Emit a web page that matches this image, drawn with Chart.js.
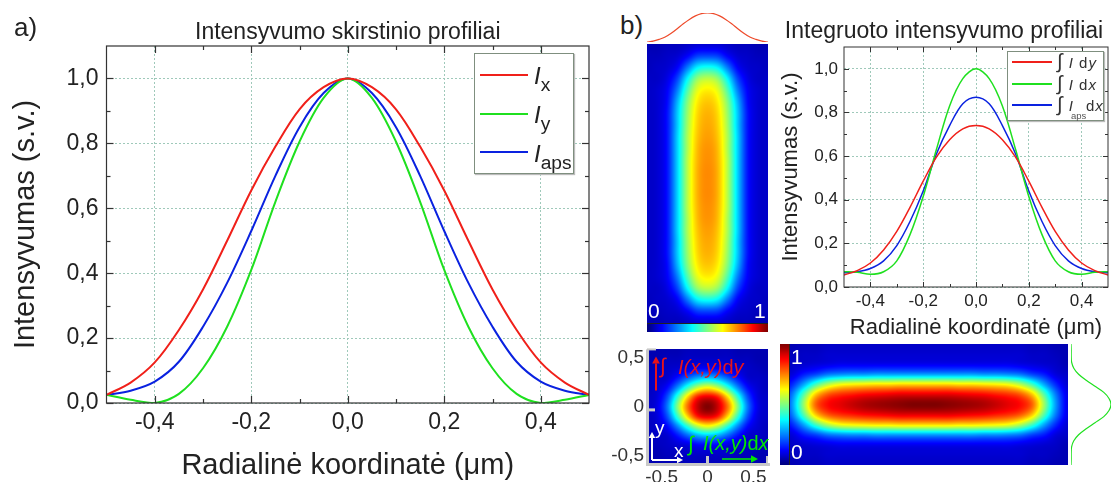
<!DOCTYPE html>
<html>
<head>
<meta charset="utf-8">
<script src="https://cdn.jsdelivr.net/npm/chart.js@4"></script>
<style>
html, body { margin: 0; padding: 0; background: #fff; }
body { position: relative; width: 1114px; height: 482px; overflow: hidden; font-family: "Liberation Sans", Arial, sans-serif; color: #222; }
canvas { position: absolute; }
.txt { position: absolute; white-space: nowrap; line-height: 1; }
.box { position: absolute; background: #fff; border: 1px solid #7f8f7f; box-shadow: 1px 1px 1px #bbb; }
.smp { position: absolute; height: 2px; }
i { font-style: italic; }
sub { font-size: 0.8em; line-height: 0; vertical-align: -0.35em; }
.int { font-size: 1.35em; line-height: 0; font-weight: normal; }
</style>
</head>
<body>
<script>
// x positions of the curves (um)
const xPositions = [-0.5, -0.45, -0.4, -0.35, -0.3, -0.25, -0.2, -0.15, -0.1, -0.05, 0, 0.05, 0.1, 0.15, 0.2, 0.25, 0.3, 0.35, 0.4, 0.45, 0.5];

// a) intensity profiles
const profileX = [0.025, 0.063, 0.125, 0.225, 0.35, 0.50, 0.655, 0.79, 0.905, 0.973, 1, 0.973, 0.905, 0.79, 0.655, 0.50, 0.35, 0.225, 0.125, 0.063, 0.025];
const profileY = [0.025, 0.01, 0, 0.028, 0.107, 0.235, 0.41, 0.62, 0.805, 0.94, 1, 0.94, 0.805, 0.62, 0.41, 0.235, 0.107, 0.028, 0, 0.01, 0.025];
const profileAps = [0.025, 0.038, 0.066, 0.127, 0.235, 0.37, 0.53, 0.70, 0.85, 0.955, 1, 0.955, 0.85, 0.70, 0.53, 0.37, 0.235, 0.127, 0.066, 0.038, 0.025];

// b) integrated profiles
const integralDy = [0.055, 0.075, 0.11, 0.17, 0.255, 0.365, 0.485, 0.595, 0.675, 0.725, 0.74, 0.725, 0.675, 0.595, 0.485, 0.365, 0.255, 0.17, 0.11, 0.075, 0.055];
const integralDx = [0.07, 0.068, 0.058, 0.07, 0.12, 0.24, 0.415, 0.63, 0.83, 0.955, 1, 0.955, 0.83, 0.63, 0.415, 0.24, 0.12, 0.07, 0.058, 0.068, 0.07];
const integralAps = [0.065, 0.07, 0.085, 0.12, 0.19, 0.30, 0.44, 0.61, 0.74, 0.84, 0.87, 0.84, 0.74, 0.61, 0.44, 0.30, 0.19, 0.12, 0.085, 0.07, 0.065];

// small profiles next to the maps
const topProfile = [0, 0.03, 0.09, 0.17, 0.30, 0.46, 0.63, 0.78, 0.90, 0.98, 1, 0.98, 0.90, 0.78, 0.63, 0.46, 0.30, 0.17, 0.09, 0.03, 0];
const sideProfile = [0, 0.005, 0.005, 0.015, 0.07, 0.19, 0.38, 0.6, 0.82, 0.95, 1, 0.95, 0.82, 0.6, 0.38, 0.19, 0.07, 0.015, 0.005, 0.005, 0];

// ticks
const xTicks = [-0.4, -0.2, 0, 0.2, 0.4];
const xMinorTicks = [-0.3, -0.1, 0.1, 0.3];
const yTicks = [0, 0.2, 0.4, 0.6, 0.8, 1];
const yMinorTicks = [0.1, 0.3, 0.5, 0.7, 0.9];
const mapTicks = [-0.5, 0, 0.5];
const barScale = [0, 0.1, 0.2, 0.3, 0.4, 0.5, 0.6, 0.7, 0.8, 0.9, 1];

// maps, one quarter each: first row/column is the centre of the map
const tallQuarter = [
    [0.74, 0.70, 0.55, 0.33, 0.14, 0.08, 0.07],
    [0.74, 0.70, 0.55, 0.33, 0.14, 0.08, 0.07],
    [0.735, 0.695, 0.55, 0.33, 0.14, 0.08, 0.07],
    [0.73, 0.69, 0.54, 0.33, 0.14, 0.08, 0.07],
    [0.72, 0.68, 0.54, 0.33, 0.14, 0.08, 0.07],
    [0.71, 0.67, 0.53, 0.32, 0.14, 0.08, 0.07],
    [0.70, 0.66, 0.52, 0.32, 0.14, 0.08, 0.07],
    [0.68, 0.64, 0.50, 0.30, 0.13, 0.08, 0.07],
    [0.64, 0.60, 0.45, 0.25, 0.12, 0.08, 0.07],
    [0.56, 0.52, 0.37, 0.19, 0.10, 0.07, 0.07],
    [0.39, 0.36, 0.24, 0.12, 0.08, 0.07, 0.06],
    [0.19, 0.18, 0.12, 0.08, 0.07, 0.06, 0.06],
    [0.08, 0.08, 0.07, 0.06, 0.06, 0.05, 0.05]
];
const smallQuarter = [
    [1.00, 0.93, 0.76, 0.50, 0.24, 0.10, 0.07],
    [0.90, 0.85, 0.66, 0.42, 0.20, 0.09, 0.07],
    [0.62, 0.56, 0.42, 0.26, 0.13, 0.08, 0.06],
    [0.32, 0.29, 0.22, 0.14, 0.08, 0.07, 0.06],
    [0.12, 0.12, 0.09, 0.08, 0.07, 0.06, 0.05],
    [0.07, 0.07, 0.07, 0.06, 0.06, 0.05, 0.05],
    [0.06, 0.06, 0.06, 0.05, 0.05, 0.05, 0.05]
];
const wideQuarter = [
    [1.00, 1.00, 0.99, 0.98, 0.97, 0.955, 0.93, 0.90, 0.87, 0.78, 0.53, 0.27, 0.10],
    [0.90, 0.90, 0.90, 0.89, 0.88, 0.87, 0.85, 0.83, 0.79, 0.68, 0.46, 0.24, 0.10],
    [0.66, 0.66, 0.66, 0.65, 0.65, 0.64, 0.63, 0.61, 0.55, 0.44, 0.29, 0.16, 0.08],
    [0.28, 0.28, 0.28, 0.28, 0.28, 0.27, 0.27, 0.26, 0.24, 0.19, 0.15, 0.09, 0.07],
    [0.11, 0.11, 0.11, 0.11, 0.11, 0.11, 0.11, 0.11, 0.10, 0.09, 0.08, 0.07, 0.05],
    [0.08, 0.08, 0.08, 0.08, 0.08, 0.08, 0.08, 0.08, 0.08, 0.07, 0.07, 0.06, 0.05],
    [0.07, 0.07, 0.07, 0.07, 0.07, 0.07, 0.07, 0.07, 0.07, 0.06, 0.06, 0.05, 0.05]
];

const FONT = "'Liberation Sans', Arial, sans-serif";
const TEXT_COLOR = '#222';
const GRID_COLOR = '#9fc9ba';
const RED = '#f0201a';
const GREEN = '#1fe01f';
const BLUE = '#0a22e0';

function addCanvas(left, top, width, height) {
    const c = document.createElement('canvas');
    c.width = width;
    c.height = height;
    c.style.left = left + 'px';
    c.style.top = top + 'px';
    document.body.appendChild(c);
    return c;
}

function addText(html, left, top, size, color, extra) {
    const d = document.createElement('div');
    d.className = 'txt';
    d.innerHTML = html;
    d.style.left = left + 'px';
    d.style.top = top + 'px';
    d.style.fontSize = size + 'px';
    if (color) d.style.color = color;
    if (extra) d.style.cssText += extra;
    document.body.appendChild(d);
    return d;
}

function commaLabel(value) {
    return Number(value).toFixed(1).replace('.', ',');
}

function points(xs, ys) {
    return xs.map((x, i) => ({ x: x, y: ys[i] }));
}

function lineSet(label, data, color, width) {
    return {
        label: label,
        data: data,
        borderColor: color,
        borderWidth: width,
        pointRadius: 0,
        showLine: true,
        fill: false,
        tension: 0.33
    };
}

// quarter -> full matrix
function mirrorGrid(quarter) {
    const rows = quarter.map(r => r.slice(1).reverse().concat(r));
    return rows.slice(1).reverse().concat(rows);
}

function jet(v) {
    const c = t => Math.round(255 * Math.max(0, Math.min(1, t)));
    return [c(Math.min(4 * v - 1.5, -4 * v + 4.5)), c(Math.min(4 * v - 0.5, -4 * v + 3.5)), c(Math.min(4 * v + 0.5, -4 * v + 2.5))];
}

function cubic(a, b, c, d, t) {
    return b + 0.5 * t * (c - a + t * (2 * a - 5 * b + 4 * c - d + t * (3 * (b - c) + d - a)));
}

function sampleGrid(grid, gx, gy) {
    const rows = grid.length, cols = grid[0].length;
    const cell = (i, j) => grid[Math.max(0, Math.min(rows - 1, j))][Math.max(0, Math.min(cols - 1, i))];
    const i = Math.min(cols - 2, Math.floor(gx)), j = Math.min(rows - 2, Math.floor(gy));
    const tx = gx - i, ty = gy - j;
    const r = [];
    for (let n = -1; n <= 2; n++) {
        r.push(cubic(cell(i - 1, j + n), cell(i, j + n), cell(i + 1, j + n), cell(i + 2, j + n), tx));
    }
    return cubic(r[0], r[1], r[2], r[3], ty);
}

// paints options.plugins.heat.grid over the plot area, through the chart's scales
const heatPlugin = {
    id: 'heat',
    beforeDatasetsDraw(chart, args, opts) {
        if (!opts.grid) return;
        const a = chart.chartArea, sx = chart.scales.x, sy = chart.scales.y, grid = opts.grid;
        const w = Math.round(a.right - a.left), h = Math.round(a.bottom - a.top);
        const img = chart.ctx.createImageData(w, h);
        for (let py = 0; py < h; py++) {
            const gy = (sy.getValueForPixel(a.top + py + 0.5) - sy.min) / (sy.max - sy.min) * (grid.length - 1);
            for (let px = 0; px < w; px++) {
                const gx = (sx.getValueForPixel(a.left + px + 0.5) - sx.min) / (sx.max - sx.min) * (grid[0].length - 1);
                const col = jet(sampleGrid(grid, gx, gy));
                const k = 4 * (py * w + px);
                img.data[k] = col[0];
                img.data[k + 1] = col[1];
                img.data[k + 2] = col[2];
                img.data[k + 3] = 255;
            }
        }
        chart.ctx.putImageData(img, a.left, a.top);
    }
};

// frame and inward ticks on all four sides
const framePlugin = {
    id: 'frame',
    afterDatasetsDraw(chart, args, opts) {
        if (!opts.major) return;
        const a = chart.chartArea, sx = chart.scales.x, sy = chart.scales.y, ctx = chart.ctx;
        ctx.save();
        ctx.strokeStyle = '#333';
        ctx.lineWidth = opts.width;
        ctx.strokeRect(a.left, a.top, a.right - a.left, a.bottom - a.top);
        const mark = (x1, y1, x2, y2) => {
            ctx.beginPath();
            ctx.moveTo(x1, y1);
            ctx.lineTo(x2, y2);
            ctx.stroke();
        };
        const vert = (v, len) => {
            const x = Math.round(sx.getPixelForValue(v)) + 0.5;
            mark(x, a.bottom, x, a.bottom - len);
            mark(x, a.top, x, a.top + len);
        };
        const hor = (v, len) => {
            const y = Math.round(sy.getPixelForValue(v)) + 0.5;
            mark(a.left, y, a.left + len, y);
            mark(a.right, y, a.right - len, y);
        };
        xTicks.forEach(v => vert(v, opts.major));
        xMinorTicks.forEach(v => vert(v, opts.minor));
        yTicks.forEach(v => hor(v, opts.major));
        yMinorTicks.forEach(v => hor(v, opts.minor));
        ctx.restore();
    }
};
Chart.register(heatPlugin, framePlugin);
Chart.defaults.font.family = FONT;
Chart.defaults.color = TEXT_COLOR;

function profileChart(canvas, o) {
    return new Chart(canvas, {
        type: 'scatter',
        data: { datasets: o.datasets },
        options: {
            responsive: false,
            animation: false,
            layout: { padding: o.padding },
            scales: {
                x: {
                    type: 'linear', min: -0.5, max: 0.5,
                    afterBuildTicks: s => { s.ticks = xTicks.map(v => ({ value: v })); },
                    afterFit: s => { s.height = o.xHeight; },
                    ticks: { callback: commaLabel, font: { size: o.tickSize }, color: TEXT_COLOR, padding: o.xPad, maxRotation: 0, autoSkip: false },
                    grid: { color: GRID_COLOR, drawTicks: false, lineWidth: 1 },
                    border: { display: false, dash: [2, 2] },
                    title: { display: true, text: 'Radialinė koordinatė (μm)', font: { size: o.xTitleSize, lineHeight: 1 }, color: TEXT_COLOR, padding: { top: 0, bottom: o.xTitlePad } }
                },
                y: {
                    type: 'linear', min: 0, max: 1.1,
                    afterBuildTicks: s => { s.ticks = yTicks.map(v => ({ value: v })); },
                    afterFit: s => { s.width = o.yWidth; },
                    ticks: { callback: commaLabel, font: { size: o.tickSize }, color: TEXT_COLOR, padding: o.yPad, autoSkip: false },
                    grid: { color: GRID_COLOR, drawTicks: false, lineWidth: 1 },
                    border: { display: false, dash: [2, 2] },
                    title: { display: true, text: 'Intensyvumas (s.v.)', font: { size: o.yTitleSize, lineHeight: 1 }, color: TEXT_COLOR, padding: { top: o.yTitlePad, bottom: 0 } }
                }
            },
            plugins: {
                legend: { display: false },
                tooltip: { enabled: false },
                title: { display: true, text: o.title, fullSize: o.titleFull, color: TEXT_COLOR, font: { size: o.titleSize, weight: 'normal', lineHeight: 1 }, padding: o.titlePad },
                frame: { major: o.major, minor: o.minor, width: o.frameWidth }
            }
        }
    });
}

// a)
profileChart(addCanvas(0, 0, 610, 482), {
    datasets: [
        lineSet('Ix', points(xPositions, profileX), RED, 2),
        lineSet('Iy', points(xPositions, profileY), GREEN, 2),
        lineSet('Iaps', points(xPositions, profileAps), BLUE, 2)
    ],
    padding: { top: 0, right: 21, bottom: 0, left: 0 },
    xHeight: 79, yWidth: 106.5,
    tickSize: 23, xPad: 6, yPad: 8,
    xTitleSize: 29, xTitlePad: 2, yTitleSize: 29, yTitlePad: 11,
    title: 'Intensyvumo skirstinio profiliai', titleFull: false, titleSize: 23, titlePad: { top: 21, bottom: 2 },
    major: 7, minor: 4, frameWidth: 1.2
});

// b) integrated profiles
profileChart(addCanvas(780, 0, 334, 345), {
    datasets: [
        lineSet('dy', points(xPositions, integralDy), RED, 1.5),
        lineSet('dx', points(xPositions, integralDx), GREEN, 1.5),
        lineSet('aps', points(xPositions, integralAps), BLUE, 1.5)
    ],
    padding: { top: 0, right: 6, bottom: 0, left: 0 },
    xHeight: 58, yWidth: 64,
    tickSize: 17, xPad: 4, yPad: 6,
    xTitleSize: 22, xTitlePad: 6, yTitleSize: 22, yTitlePad: 0,
    title: 'Integruoto intensyvumo profiliai', titleFull: true, titleSize: 23, titlePad: { top: 20, bottom: 4 },
    major: 5, minor: 3, frameWidth: 1
});

function heatChart(canvas, grid, o) {
    o = o || {};
    return new Chart(canvas, {
        type: 'scatter',
        data: { datasets: [] },
        plugins: o.plugins || [],
        options: {
            responsive: false,
            animation: false,
            layout: { padding: o.padding || 0 },
            scales: {
                x: Object.assign({ type: 'linear', min: -1, max: 1, display: false }, o.x),
                y: Object.assign({ type: 'linear', min: -1, max: 1, display: false }, o.y)
            },
            plugins: { legend: { display: false }, tooltip: { enabled: false }, heat: { grid: grid } }
        }
    });
}

function miniProfile(canvas, data, color, padding, xr, yr) {
    return new Chart(canvas, {
        type: 'scatter',
        data: { datasets: [lineSet('profile', data, color, 1.2)] },
        options: {
            responsive: false,
            animation: false,
            layout: { padding: padding },
            scales: {
                x: Object.assign({ type: 'linear', display: false }, xr),
                y: Object.assign({ type: 'linear', display: false }, yr)
            },
            plugins: { legend: { display: false }, tooltip: { enabled: false } }
        }
    });
}

// tall map with its colour bar and profile
heatChart(addCanvas(647, 44, 121, 279), mirrorGrid(tallQuarter));
heatChart(addCanvas(647, 323, 121, 9), [barScale, barScale]);
miniProfile(addCanvas(647, 8, 121, 36), points(xPositions, topProfile), '#ee4a2a',
    { top: 5, right: 0, bottom: 2, left: 0 }, { min: -0.5, max: 0.5 }, { min: 0, max: 1 });

// small map
const smallPanelTicks = {
    afterBuildTicks: s => { s.ticks = mapTicks.map(v => ({ value: v })); }
};
const annotations = {
    id: 'annotations',
    afterDraw(chart) {
        const a = chart.chartArea, ctx = chart.ctx;
        ctx.save();
        ctx.fillStyle = '#c8c8c8';
        ctx.fillRect(a.left - 1, a.top, 3, a.bottom - a.top);
        ctx.fillRect(a.left - 1, a.bottom - 2, a.right - a.left + 3, 3);
        ctx.fillRect(a.left, a.top - 1, 9, 2);
        ctx.fillRect(a.left, a.top + 59, 8, 3);
        ctx.fillRect(a.left + 59, a.bottom - 9, 3, 8);
        ctx.fillRect(a.right - 2, a.bottom - 9, 2, 8);
        const arrow = (x1, y1, x2, y2, color, w, head) => {
            const ang = Math.atan2(y2 - y1, x2 - x1);
            ctx.strokeStyle = color;
            ctx.fillStyle = color;
            ctx.lineWidth = w;
            ctx.beginPath();
            ctx.moveTo(x1, y1);
            ctx.lineTo(x2 - Math.cos(ang) * head, y2 - Math.sin(ang) * head);
            ctx.stroke();
            ctx.beginPath();
            ctx.moveTo(x2, y2);
            ctx.lineTo(x2 - Math.cos(ang) * head - Math.sin(ang) * head * 0.55, y2 - Math.sin(ang) * head + Math.cos(ang) * head * 0.55);
            ctx.lineTo(x2 - Math.cos(ang) * head + Math.sin(ang) * head * 0.55, y2 - Math.sin(ang) * head - Math.cos(ang) * head * 0.55);
            ctx.closePath();
            ctx.fill();
        };
        arrow(a.left + 9, a.top + 41, a.left + 9, a.top + 7, '#e8131a', 2, 7);
        arrow(a.left + 75, a.bottom - 6, a.left + 111, a.bottom - 6, '#00e800', 1.5, 7);
        arrow(a.left + 5, a.bottom - 5, a.left + 5, a.bottom - 33, '#fff', 2, 6);
        arrow(a.left + 5, a.bottom - 5, a.left + 36, a.bottom - 5, '#fff', 2, 6);
        ctx.restore();
    }
};
heatChart(addCanvas(600, 335, 180, 147), mirrorGrid(smallQuarter), {
    padding: { top: 9, right: 12, bottom: 0, left: 0 },
    plugins: [annotations],
    x: Object.assign({
        display: true, min: -0.66, max: 0.66,
        afterFit: s => { s.height = 17; },
        ticks: { callback: v => String(v), font: { size: 19 }, color: '#333', padding: 1, maxRotation: 0, autoSkip: false },
        grid: { display: false, drawTicks: false }, border: { display: false }
    }, smallPanelTicks),
    y: Object.assign({
        display: true, min: -0.59, max: 0.59,
        afterFit: s => { s.width = 47; },
        ticks: { callback: v => v === 0 ? '0' : commaLabel(v), font: { size: 19 }, color: '#333', padding: 3, autoSkip: false },
        grid: { display: false, drawTicks: false }, border: { display: false }
    }, smallPanelTicks)
});

// wide map with its colour bar and profile
heatChart(addCanvas(780, 344, 288, 121), mirrorGrid(wideQuarter));
heatChart(addCanvas(780, 344, 10, 121), barScale.map(v => [v, v]));
miniProfile(addCanvas(1068, 344, 46, 121), points(sideProfile, xPositions), GREEN,
    { top: 0, right: 3, bottom: 0, left: 3 }, { min: 0, max: 1 }, { min: -0.5, max: 0.5 });

// frame lines of the colour bars
addText('', 647, 323, 1, null, 'width:121px;height:1px;background:#222;');
addText('', 789, 344, 1, null, 'width:1px;height:121px;background:#222;');

// panel labels
addText('a)', 14, 14, 26);
addText('b)', 620, 12, 26);

// labels on the maps
addText('0', 648, 300, 21, '#fff');
addText('1', 754, 300, 21, '#fff');
addText('1', 791, 346, 21, '#fff');
addText('0', 791, 441, 21, '#fff');

addText('∫', 660, 355, 21, '#e8131a', 'font-weight:100;');
addText('<i>I(x,y)</i>d<i>y</i>', 678, 357, 20, '#e8131a');
addText('∫', 688, 433, 21, '#00e800', 'font-weight:100;');
addText('<i>I(x,y)</i>d<i>x</i>', 703, 433, 20, '#00e800');
addText('y', 655, 418, 19, '#fff');
addText('x', 674, 441, 19, '#fff');

// legend of a)
function legendBox(left, top, width, height) {
    const b = document.createElement('div');
    b.className = 'box';
    b.style.cssText = 'left:' + left + 'px;top:' + top + 'px;width:' + width + 'px;height:' + height + 'px;';
    document.body.appendChild(b);
}

function legendSample(left, top, width, color) {
    const s = document.createElement('div');
    s.className = 'smp';
    s.style.cssText = 'left:' + left + 'px;top:' + top + 'px;width:' + width + 'px;background:' + color + ';';
    document.body.appendChild(s);
}

legendBox(474, 53, 98, 119);
legendSample(480, 74, 48, RED);
legendSample(480, 113, 48, GREEN);
legendSample(480, 151, 48, BLUE);
addText('<i>I</i><sub>x</sub>', 534, 64, 24);
addText('<i>I</i><sub>y</sub>', 534, 103, 24);
addText('<i>I</i><sub>aps</sub>', 534, 142, 24);

// legend of b)
legendBox(1007, 51, 95, 68);
legendSample(1012, 61, 40, RED);
legendSample(1012, 83, 40, GREEN);
legendSample(1012, 104, 40, BLUE);
addText('<span class="int">∫</span> <i>I</i> d<i>y</i>', 1057, 55, 15, '#333', 'letter-spacing:1px;');
addText('<span class="int">∫</span> <i>I</i> d<i>x</i>', 1057, 77, 15, '#333', 'letter-spacing:1px;');
addText('<span class="int">∫</span> <i>I</i>', 1057, 98, 15, '#333', 'letter-spacing:1px;');
addText('aps', 1071, 111, 9.5, '#555');
addText('d<i>x</i>', 1086, 98, 15, '#333', 'letter-spacing:1px;');
</script>
</body>
</html>
